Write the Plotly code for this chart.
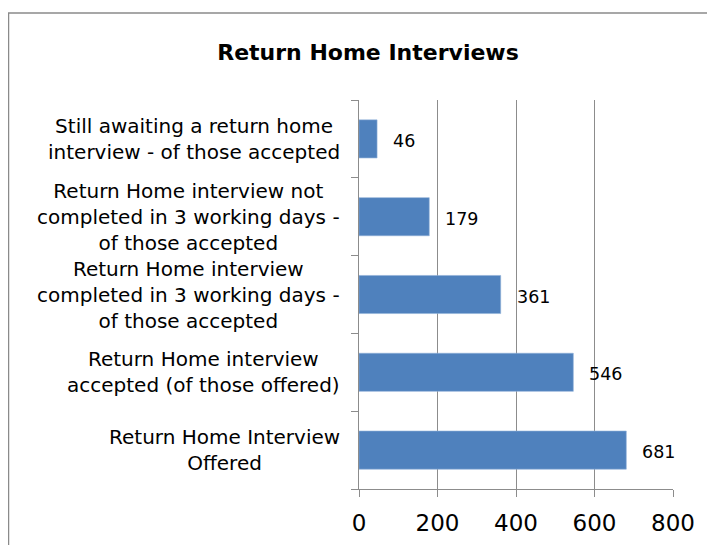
import plotly.graph_objects as go

categories = [
    "Still awaiting a return home<br>interview - of those accepted",
    "Return Home interview not<br>completed in 3 working days -<br>of those accepted",
    "Return Home interview<br>completed in 3 working days -<br>of those accepted",
    "Return Home interview<br>accepted (of those offered)",
    "Return Home Interview<br>Offered",
]
values = [46, 179, 361, 546, 681]
x_ticks = [0, 200, 400, 600, 800]

FONT = "DejaVu Sans"
BAR = "#4F81BD"
GRID = "#8c8c8c"

# page has 8px body margin; layout compensates
L, R, T, B = 351, 50, 92, 64
PW = 715 - L - R
PH = 545 - T - B

fig = go.Figure(go.Bar(
    y=categories, x=values, orientation="h",
    marker=dict(color=BAR, line=dict(color="#8fb0d8", width=0.6)),
    width=0.49, hoverinfo="skip",
))

annotations = []
for c in categories:
    annotations.append(dict(
        x=0, xref="paper", y=c, yref="y", xanchor="right", yanchor="middle",
        xshift=-17, text=c, showarrow=False, align="center",
        font=dict(family=FONT, size=20, color="#000000"),
    ))
for c, v in zip(categories, values):
    annotations.append(dict(
        x=v, xref="x", y=c, yref="y", xanchor="left", yanchor="middle",
        xshift=14, yshift=-2, text=str(v), showarrow=False,
        font=dict(family=FONT, size=17.5, color="#000000"),
    ))

fig.update_layout(
    width=715, height=545,
    margin=dict(l=L, r=R, t=T, b=B),
    paper_bgcolor="white", plot_bgcolor="white",
    showlegend=False,
    title=dict(text="<b>Return Home Interviews</b>", x=360/715, xanchor="center",
               y=1 - 44/545, yanchor="middle",
               font=dict(family=FONT, size=22, color="#000000")),
    xaxis=dict(range=[0, 800], tickvals=x_ticks, ticktext=[str(t) for t in x_ticks],
               showgrid=True, gridcolor=GRID, gridwidth=1,
               showline=True, linecolor=GRID, linewidth=1,
               ticks="outside", ticklen=7, tickcolor=GRID, ticklabelstandoff=6,
               tickfont=dict(family=FONT, size=23, color="#000000"),
               zeroline=False, fixedrange=True),
    yaxis=dict(categoryorder="array", categoryarray=categories[::-1],
               showticklabels=False, showgrid=False,
               showline=True, linecolor=GRID, linewidth=1,
               ticks="outside", ticklen=7, tickcolor=GRID, tickson="boundaries",
               fixedrange=True),
    annotations=annotations,
    shapes=[dict(type="rect", xref="paper", yref="paper",
                 x0=(0.5 - L) / PW, x1=(730 - L) / PW,
                 y0=(PH + T - 560) / PH, y1=(PH + T - 5) / PH,
                 line=dict(color="#8a8a8a", width=1.5), fillcolor="rgba(0,0,0,0)",
                 layer="below")],
)

fig.write_html("out.html")
